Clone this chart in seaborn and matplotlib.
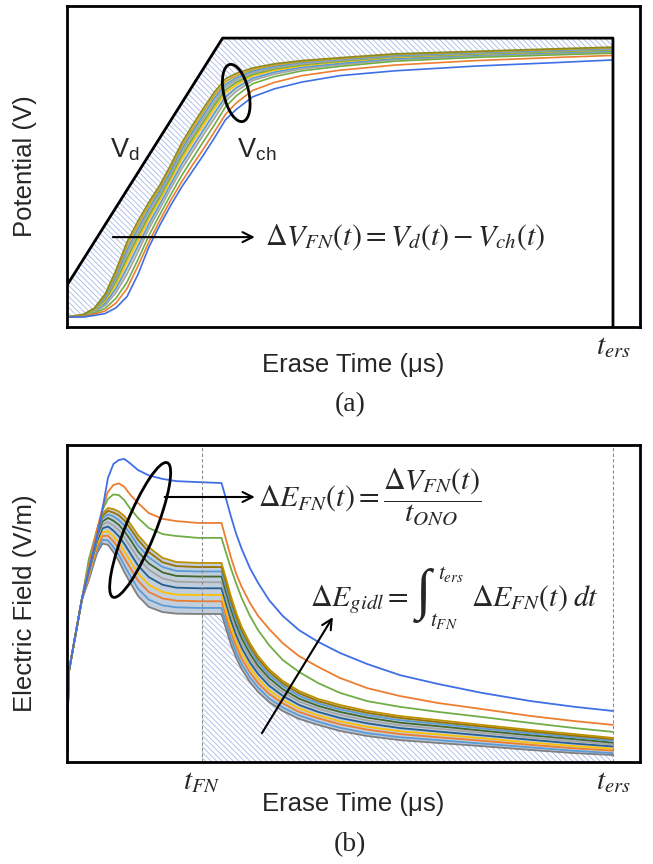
import numpy as np
import pandas as pd
import matplotlib
matplotlib.use("Agg")
import matplotlib.pyplot as plt
import seaborn as sns
from matplotlib.patches import Ellipse
from matplotlib.transforms import ScaledTranslation

# ---------------- shared time markers ----------------
T_ERS = 100.0
T_FN = 24.7
X_MAX = 104.95

# ---------------- panel (a): potentials ----------------
vd_t = [0, 28.5, 100, 100]
vd_v = [1.3, 9.0, 9.0, 0.0]

ta = [0, 3, 5, 7, 9, 11, 13, 15, 17, 19, 21, 23, 25, 27, 29, 31, 34, 38, 43, 50, 60, 75, 90, 100]
vch_blue = [0.31, 0.31, 0.36, 0.42, 0.60, 0.95, 1.64, 2.49, 3.17, 3.79, 4.36, 4.86, 5.36, 5.89, 6.45, 6.78, 7.17, 7.42, 7.63, 7.83, 7.98, 8.13, 8.24, 8.32]
vch_orange = [0.31, 0.33, 0.40, 0.50, 0.75, 1.20, 1.90, 2.65, 3.32, 3.95, 4.52, 5.05, 5.55, 6.08, 6.62, 6.98, 7.37, 7.62, 7.83, 8.00, 8.16, 8.30, 8.40, 8.46]
vch_green = [0.31, 0.34, 0.43, 0.58, 0.90, 1.40, 2.10, 2.85, 3.50, 4.12, 4.72, 5.25, 5.78, 6.30, 6.85, 7.20, 7.58, 7.80, 7.98, 8.12, 8.28, 8.40, 8.48, 8.53]
vch_c1 = [0.31, 0.35, 0.46, 0.67, 1.08, 1.65, 2.34, 3.06, 3.68, 4.31, 4.92, 5.46, 5.99, 6.50, 7.03, 7.34, 7.68, 7.88, 8.04, 8.17, 8.33, 8.44, 8.52, 8.57]
vch_c2 = [0.31, 0.36, 0.49, 0.74, 1.21, 1.84, 2.52, 3.21, 3.82, 4.45, 5.07, 5.61, 6.14, 6.66, 7.16, 7.45, 7.75, 7.94, 8.09, 8.21, 8.36, 8.47, 8.55, 8.60]
vch_c3 = [0.31, 0.37, 0.51, 0.81, 1.34, 2.03, 2.70, 3.37, 3.96, 4.59, 5.23, 5.77, 6.30, 6.81, 7.29, 7.55, 7.83, 8.00, 8.14, 8.26, 8.40, 8.50, 8.58, 8.63]
vch_c4 = [0.31, 0.37, 0.53, 0.85, 1.43, 2.15, 2.82, 3.47, 4.05, 4.68, 5.33, 5.87, 6.40, 6.91, 7.38, 7.62, 7.87, 8.04, 8.17, 8.28, 8.42, 8.51, 8.59, 8.64]
vch_c5 = [0.31, 0.38, 0.54, 0.90, 1.52, 2.28, 2.94, 3.58, 4.14, 4.77, 5.43, 5.98, 6.51, 7.01, 7.47, 7.69, 7.92, 8.08, 8.20, 8.31, 8.44, 8.53, 8.61, 8.66]
vch_c6 = [0.31, 0.38, 0.56, 0.94, 1.60, 2.40, 3.06, 3.68, 4.24, 4.86, 5.53, 6.08, 6.61, 7.12, 7.55, 7.76, 7.97, 8.12, 8.24, 8.34, 8.46, 8.55, 8.63, 8.68]
vch_c7 = [0.31, 0.39, 0.57, 0.99, 1.69, 2.53, 3.18, 3.79, 4.33, 4.96, 5.63, 6.18, 6.72, 7.22, 7.64, 7.83, 8.02, 8.16, 8.27, 8.36, 8.49, 8.57, 8.65, 8.70]
vch_top = [0.31, 0.39, 0.59, 1.03, 1.78, 2.65, 3.30, 3.89, 4.42, 5.05, 5.73, 6.29, 6.82, 7.32, 7.73, 7.90, 8.07, 8.20, 8.30, 8.39, 8.51, 8.59, 8.67, 8.72]

# ---------------- panel (b): electric field ----------------
tb = [0, 0.3, 2.7, 4, 5.5, 6.5, 7.5, 8.5, 9.5, 10.5, 11.5, 13, 15, 17.5, 20, 24, 28.3,
      29.2, 30, 31, 32, 33.5, 35, 37, 39.5, 42.5, 46, 50, 55, 61, 68, 76, 85, 93, 100]
e_blue = [0, 2.81, 5.11, 6.06, 7.13, 7.98, 8.96, 9.40, 9.53, 9.56, 9.43, 9.21, 9.04, 8.93, 8.86, 8.83, 8.80,
          8.26, 7.76, 7.19, 6.72, 6.12, 5.65, 5.11, 4.61, 4.16, 3.79, 3.44, 3.09, 2.74, 2.46, 2.18, 1.92, 1.74, 1.61]
e_orange = [0, 2.81, 5.11, 6.18, 7.33, 8.01, 8.52, 8.74, 8.79, 8.68, 8.45, 8.17, 7.85, 7.67, 7.60, 7.54, 7.54,
            6.97, 6.47, 5.93, 5.52, 5.02, 4.61, 4.20, 3.75, 3.34, 3.00, 2.65, 2.33, 2.08, 1.86, 1.67, 1.45, 1.29, 1.17]
e_green = [0, 2.81, 5.11, 6.40, 7.32, 7.95, 8.30, 8.44, 8.42, 8.26, 8.01, 7.70, 7.38, 7.19, 7.13, 7.07, 7.07,
           6.56, 6.12, 5.62, 5.17, 4.61, 4.16, 3.69, 3.22, 2.84, 2.49, 2.18, 1.92, 1.74, 1.58, 1.42, 1.23, 1.07, 0.95]
e_bottom = [0, 2.81, 5.11, 5.74, 6.59, 6.89, 6.85, 6.62, 6.34, 5.99, 5.68, 5.24, 4.89, 4.73, 4.68, 4.67, 4.67,
            4.16, 3.72, 3.28, 2.93, 2.52, 2.21, 1.89, 1.61, 1.36, 1.17, 0.98, 0.82, 0.69, 0.60, 0.50, 0.38, 0.28, 0.22]
e_k1 = [0, 2.81, 5.11, 5.80, 6.68, 7.01, 6.99, 6.78, 6.53, 6.20, 5.90, 5.47, 5.12, 4.94, 4.88, 4.86, 4.86,
        4.35, 3.90, 3.45, 3.09, 2.67, 2.35, 2.01, 1.72, 1.47, 1.27, 1.08, 0.91, 0.78, 0.69, 0.58, 0.46, 0.35, 0.28]
e_k2 = [0, 2.81, 5.11, 5.86, 6.77, 7.13, 7.14, 6.96, 6.73, 6.43, 6.15, 5.72, 5.36, 5.16, 5.09, 5.07, 5.07,
        4.56, 4.10, 3.64, 3.26, 2.83, 2.49, 2.15, 1.85, 1.58, 1.38, 1.19, 1.02, 0.88, 0.78, 0.67, 0.54, 0.43, 0.36]
e_k3 = [0, 2.81, 5.11, 5.91, 6.86, 7.25, 7.28, 7.12, 6.92, 6.64, 6.37, 5.95, 5.59, 5.36, 5.28, 5.27, 5.27,
        4.74, 4.28, 3.81, 3.42, 2.98, 2.63, 2.27, 1.96, 1.69, 1.47, 1.28, 1.11, 0.97, 0.87, 0.75, 0.61, 0.50, 0.42]
e_k4 = [0, 2.81, 5.11, 5.98, 6.96, 7.37, 7.43, 7.30, 7.12, 6.88, 6.61, 6.20, 5.83, 5.59, 5.50, 5.48, 5.48,
        4.95, 4.48, 3.99, 3.60, 3.14, 2.78, 2.41, 2.09, 1.80, 1.58, 1.39, 1.22, 1.07, 0.96, 0.84, 0.70, 0.58, 0.49]
e_k5 = [0, 2.81, 5.11, 6.03, 7.04, 7.49, 7.57, 7.46, 7.31, 7.09, 6.83, 6.43, 6.06, 5.79, 5.69, 5.67, 5.67,
        5.14, 4.66, 4.16, 3.75, 3.28, 2.91, 2.53, 2.20, 1.91, 1.68, 1.49, 1.31, 1.16, 1.05, 0.92, 0.77, 0.65, 0.55]
e_k6 = [0, 2.81, 5.11, 6.08, 7.12, 7.59, 7.70, 7.61, 7.48, 7.28, 7.04, 6.64, 6.26, 5.98, 5.87, 5.85, 5.85,
        5.31, 4.83, 4.32, 3.90, 3.42, 3.03, 2.65, 2.30, 2.00, 1.77, 1.58, 1.40, 1.24, 1.13, 0.99, 0.84, 0.72, 0.61]
e_k7 = [0, 2.81, 5.11, 6.13, 7.20, 7.69, 7.81, 7.75, 7.63, 7.46, 7.22, 6.83, 6.45, 6.15, 6.03, 6.01, 6.01,
        5.47, 4.98, 4.46, 4.03, 3.54, 3.15, 2.75, 2.40, 2.09, 1.85, 1.66, 1.48, 1.32, 1.20, 1.06, 0.90, 0.78, 0.67]
e_k8 = [0, 2.81, 5.11, 6.17, 7.26, 7.77, 7.92, 7.87, 7.78, 7.62, 7.39, 7.01, 6.62, 6.30, 6.18, 6.15, 6.15,
        5.61, 5.12, 4.59, 4.15, 3.65, 3.25, 2.85, 2.48, 2.17, 1.92, 1.73, 1.55, 1.39, 1.26, 1.12, 0.96, 0.83, 0.72]
e_top = [0, 2.81, 5.11, 6.21, 7.32, 7.85, 8.01, 7.98, 7.90, 7.76, 7.54, 7.16, 6.77, 6.44, 6.31, 6.28, 6.28,
         5.74, 5.24, 4.70, 4.26, 3.75, 3.34, 2.93, 2.56, 2.24, 1.99, 1.80, 1.61, 1.45, 1.32, 1.17, 1.01, 0.88, 0.76]

# ---------------- styling ----------------
BLUE, ORANGE, GREEN = "#3F6FE6", "#ED7D31", "#70AD47"
HATCH_C = "#A9B9E6"
MATH_FS = 21.5
LABEL_FS = 18.5

sns.set_theme(style="white")
plt.rcParams["font.family"] = ["Liberation Sans", "DejaVu Sans"]
plt.rcParams["mathtext.fontset"] = "stix"
plt.rcParams["hatch.linewidth"] = 0.6


def long_df(t, curves):
    rows = []
    for name, vals in curves.items():
        for x, y in zip(t, vals):
            rows.append((name, x, y))
    return pd.DataFrame(rows, columns=["curve", "t", "v"])


def draw_curves(ax, t, curves, palette, lw):
    df = long_df(t, curves)
    sns.lineplot(data=df, x="t", y="v", hue="curve", hue_order=list(curves),
                 palette=palette, estimator=None, sort=False, legend=False,
                 linewidth=lw, ax=ax)


def ellipse(ax, fig, cx, cy, w_in, h_in, angle):
    tr = fig.dpi_scale_trans + ScaledTranslation(cx, cy, ax.transData)
    e = Ellipse((0, 0), w_in, h_in, angle=angle, fill=False, edgecolor="black",
                linewidth=2.0, transform=tr, zorder=6)
    ax.add_patch(e)


def arrow(ax, x0, y0, x1, y1):
    ax.annotate("", xy=(x1, y1), xytext=(x0, y0),
                arrowprops=dict(arrowstyle="->,head_length=0.6,head_width=0.3",
                                color="black", lw=1.5, shrinkA=0, shrinkB=0), zorder=7)


def frame(ax):
    for s in ax.spines.values():
        s.set_visible(True)
        s.set_color("black")
        s.set_linewidth(2.0)
    ax.set_yticks([])
    ax.tick_params(axis="x", length=0, labelsize=21, pad=4)


fig = plt.figure(figsize=(6.53, 8.64), dpi=100)
axa = fig.add_axes([67 / 653, 1 - 327 / 864, 573 / 653, 321 / 864])
axb = fig.add_axes([67 / 653, 1 - 762 / 864, 573 / 653, 317 / 864])

# ---------- panel (a) ----------
hx = vd_t[:3] + ta[::-1]
hy = vd_v[:3] + vch_top[::-1]
axa.fill(hx, hy, facecolor="none", edgecolor=HATCH_C, hatch="\\" * 6, linewidth=0, zorder=1)
axa.fill_between(ta, vch_c1, vch_top, color="#B9B48C", alpha=0.45, linewidth=0, zorder=1.5)

curves_a = {
    "c1": vch_c1, "c2": vch_c2, "c3": vch_c3, "c4": vch_c4,
    "c5": vch_c5, "c6": vch_c6, "c7": vch_c7, "top": vch_top,
    "green": vch_green, "orange": vch_orange, "blue": vch_blue,
}
pal_a = {
    "c1": "#A5A5A5", "c2": "#5B9BD5", "c3": "#FFC000", "c4": "#70AD47",
    "c5": "#A5A5A5", "c6": "#5B9BD5", "c7": "#C9A227", "top": "#8E8A1E",
    "green": GREEN, "orange": ORANGE, "blue": BLUE,
}
draw_curves(axa, ta, curves_a, pal_a, 1.2)
sns.lineplot(x=vd_t, y=vd_v, sort=False, estimator=None, color="black", linewidth=2.0, ax=axa)

axa.set_xlim(0, X_MAX)
axa.set_ylim(0, 10)
frame(axa)
axa.set_xticks([T_ERS])
axa.set_xticklabels([r"$t_{ers}$"])
axa.set_xlabel("Erase Time (μs)", fontsize=LABEL_FS, va="top")
axa.xaxis.set_label_coords(0.5, -0.082)
axa.set_ylabel("Potential (V)", fontsize=LABEL_FS)
axa.yaxis.set_label_coords(-0.052, 0.5)

axa.text(10.6, 5.51, r"V$_{\mathregular{d}}$", fontsize=19.5, ha="center", va="center")
axa.text(34.8, 5.51, r"V$_{\mathregular{ch}}$", fontsize=19.5, ha="center", va="center")
arrow(axa, 8.4, 2.80, 34.4, 2.80)
axa.text(36.3, 2.80, r"$\Delta V_{FN}(t) = V_d(t) - V_{ch}(t)$", fontsize=MATH_FS,
         ha="left", va="center")
ellipse(axa, fig, 31.0, 7.29, 0.25, 0.585, 13)

# ---------- panel (b) ----------
bot_fn = float(np.interp(T_FN, tb, e_bottom))
sel = [i for i, x in enumerate(tb) if x > T_FN]
px = [T_FN, T_FN] + [tb[i] for i in sel] + [T_ERS]
py = [0.0, bot_fn] + [e_bottom[i] for i in sel] + [0.0]
axb.fill(px, py, facecolor="none", edgecolor=HATCH_C, hatch="\\" * 6, linewidth=0, zorder=1)
axb.fill_between(tb[1:], e_bottom[1:], e_top[1:], color="#8FA6C4", alpha=0.55, linewidth=0, zorder=1.5)

curves_b = {
    "bottom": e_bottom, "k1": e_k1, "k2": e_k2, "k3": e_k3, "k4": e_k4,
    "k5": e_k5, "k6": e_k6, "k7": e_k7, "k8": e_k8, "top": e_top,
}
pal_b = {
    "bottom": "#7F7F7F", "k1": "#5B9BD5", "k2": "#ED7D31", "k3": "#FFC000",
    "k4": "#255E91", "k5": "#A5A5A5", "k6": "#43682B", "k7": "#5B9BD5",
    "k8": "#997300", "top": "#BF9000",
}
draw_curves(axb, tb, curves_b, pal_b, 1.3)
main_b = {"green": e_green, "orange": e_orange, "blue": e_blue}
draw_curves(axb, tb, main_b, {"green": GREEN, "orange": ORANGE, "blue": BLUE}, 1.3)

for xv in (T_FN, T_ERS):
    axb.axvline(xv, color="#8C8C8C", lw=0.8, ls=(0, (3, 2)), zorder=2)

axb.set_xlim(0, X_MAX)
axb.set_ylim(0, 10)
frame(axb)
axb.set_xticks([T_FN, T_ERS])
axb.set_xticklabels([r"$t_{FN}$", r"$t_{ers}$"])
axb.set_xlabel("Erase Time (μs)", fontsize=LABEL_FS, va="top")
axb.xaxis.set_label_coords(0.5, -0.095)
axb.set_ylabel("Electric Field (V/m)", fontsize=LABEL_FS)
axb.yaxis.set_label_coords(-0.052, 0.5)

ellipse(axb, fig, 13.4, 7.32, 0.30, 1.45, -22)
arrow(axb, 17.9, 8.36, 34.4, 8.36)
axb.text(35.0, 8.36, r"$\Delta E_{FN}(t) = \dfrac{\Delta V_{FN}(t)}{t_{ONO}}$", fontsize=MATH_FS,
         ha="left", va="center")
arrow(axb, 35.7, 0.91, 48.7, 4.57)
axb.text(44.5, 4.92, r"$\Delta E_{gidl} =$", fontsize=MATH_FS, ha="left", va="baseline")
axb.text(65.3, 5.24, "∫", fontsize=40, family=["Liberation Serif", "DejaVu Serif"],
         ha="center", va="center")
axb.text(67.9, 5.95, r"$t_{ers}$", fontsize=15.5, ha="left", va="center")
axb.text(66.4, 4.46, r"$t_{FN}$", fontsize=15.5, ha="left", va="center")
axb.text(74.0, 4.92, r"$\Delta E_{FN}(t)\;dt$", fontsize=MATH_FS, ha="left", va="baseline")

fig.text(350 / 653, 1 - 405 / 864, "(a)", fontsize=20, family="Liberation Serif",
         ha="center", va="center")
fig.text(350 / 653, 1 - 845 / 864, "(b)", fontsize=20, family="Liberation Serif",
         ha="center", va="center")

fig.savefig("out.png", dpi=100, facecolor="white")
